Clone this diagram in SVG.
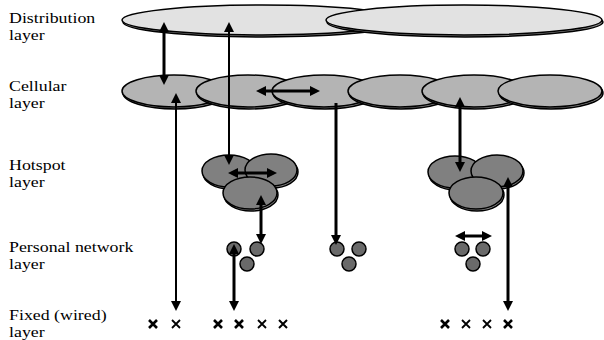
<svg xmlns="http://www.w3.org/2000/svg" xmlns:xlink="http://www.w3.org/1999/xlink" width="604" height="340" viewBox="0 0 604 340">
  <style>
    .lbl { font-family: "Liberation Serif", "DejaVu Serif", serif; font-size: 15px; fill: #000; }
    .cell { stroke: #000; stroke-width: 1.5; }
    .shadow { fill: #8c8c8c; stroke: #000; stroke-width: 1.5; }
    .dist { fill: #e2e2e2; }
    .cellu { fill: #b4b4b4; }
    .hot { fill: #808080; }
    .pers { fill: #6a6a6a; stroke: #000; stroke-width: 1.5; }
    .link { stroke: #000; fill: none; }
    .thin { stroke-width: 2; }
    .thick { stroke-width: 3; }
    .cross { stroke: #000; fill: none; stroke-linecap: butt; }
  </style>
  <defs>
    <marker id="head" viewBox="0 0 10 10" markerWidth="10" markerHeight="10" refX="2" refY="5" markerUnits="userSpaceOnUse" orient="auto-start-reverse">
      <path d="M0,0 L10,5 L0,10 z" fill="#000"/>
    </marker>
    <path id="x" d="M-4,-4 L4,4 M4,-4 L-4,4"/>
  </defs>

  <!-- layer labels -->
  <g id="labels" transform="scale(1.19 1)" font-family="'Liberation Serif', 'DejaVu Serif', serif">
    <text class="lbl" x="7.6" y="23">Distribution</text>
    <text class="lbl" x="7.6" y="40">layer</text>
    <text class="lbl" x="7.6" y="91">Cellular</text>
    <text class="lbl" x="7.6" y="108">layer</text>
    <text class="lbl" x="7.6" y="170">Hotspot</text>
    <text class="lbl" x="7.6" y="187">layer</text>
    <text class="lbl" x="7.6" y="252">Personal network</text>
    <text class="lbl" x="7.6" y="269">layer</text>
    <text class="lbl" x="7.6" y="320">Fixed (wired)</text>
    <text class="lbl" x="7.6" y="337">layer</text>
  </g>

  <!-- distribution layer -->
  <g id="dist-1">
    <ellipse class="shadow" cx="263" cy="22" rx="140" ry="15"/>
    <ellipse class="cell dist" cx="262" cy="20" rx="140" ry="15"/>
  </g>
  <g id="dist-2">
    <ellipse class="shadow" cx="465" cy="22" rx="138" ry="15"/>
    <ellipse class="cell dist" cx="464" cy="20" rx="138" ry="15"/>
  </g>

  <!-- cellular layer -->
  <g id="cell-1">
    <ellipse class="shadow" cx="175" cy="93" rx="52" ry="16"/>
    <ellipse class="cell cellu" cx="174" cy="91" rx="52" ry="16"/>
  </g>
  <g id="cell-2">
    <ellipse class="shadow" cx="249" cy="93" rx="52" ry="16"/>
    <ellipse class="cell cellu" cx="248" cy="91" rx="52" ry="16"/>
  </g>
  <g id="cell-3">
    <ellipse class="shadow" cx="325" cy="93" rx="52" ry="16"/>
    <ellipse class="cell cellu" cx="324" cy="91" rx="52" ry="16"/>
  </g>
  <g id="cell-4">
    <ellipse class="shadow" cx="401" cy="93" rx="52" ry="16"/>
    <ellipse class="cell cellu" cx="400" cy="91" rx="52" ry="16"/>
  </g>
  <g id="cell-5">
    <ellipse class="shadow" cx="475" cy="93" rx="52" ry="16"/>
    <ellipse class="cell cellu" cx="474" cy="91" rx="52" ry="16"/>
  </g>
  <g id="cell-6">
    <ellipse class="shadow" cx="551" cy="93" rx="52" ry="16"/>
    <ellipse class="cell cellu" cx="550" cy="91" rx="52" ry="16"/>
  </g>

  <!-- hotspot layer, left cluster -->
  <g id="hot-a1">
    <ellipse class="shadow" cx="230" cy="173" rx="27" ry="16"/>
    <ellipse class="cell hot" cx="229" cy="171" rx="27" ry="16"/>
  </g>
  <g id="hot-a2">
    <ellipse class="shadow" cx="272" cy="172" rx="26" ry="16"/>
    <ellipse class="cell hot" cx="271" cy="170" rx="26" ry="16"/>
  </g>
  <g id="hot-a3">
    <ellipse class="shadow" cx="251" cy="195" rx="27" ry="16"/>
    <ellipse class="cell hot" cx="250" cy="193" rx="27" ry="16"/>
  </g>

  <!-- hotspot layer, right cluster -->
  <g id="hot-b1">
    <ellipse class="shadow" cx="456" cy="174" rx="27" ry="16"/>
    <ellipse class="cell hot" cx="455" cy="172" rx="27" ry="16"/>
  </g>
  <g id="hot-b2">
    <ellipse class="shadow" cx="498" cy="173" rx="26" ry="16"/>
    <ellipse class="cell hot" cx="497" cy="171" rx="26" ry="16"/>
  </g>
  <g id="hot-b3">
    <ellipse class="shadow" cx="477" cy="195" rx="27" ry="16"/>
    <ellipse class="cell hot" cx="476" cy="193" rx="27" ry="16"/>
  </g>

  <!-- personal network layer -->
  <g id="pan-1">
    <circle class="pers" cx="234" cy="249" r="7"/>
    <circle class="pers" cx="257" cy="249" r="7"/>
    <circle class="pers" cx="247" cy="264" r="7"/>
  </g>
  <g id="pan-2">
    <circle class="pers" cx="337" cy="249" r="7"/>
    <circle class="pers" cx="359" cy="249" r="7"/>
    <circle class="pers" cx="349" cy="264" r="7"/>
  </g>
  <g id="pan-3">
    <circle class="pers" cx="462" cy="249" r="7"/>
    <circle class="pers" cx="483" cy="249" r="7"/>
    <circle class="pers" cx="473" cy="264" r="7"/>
  </g>

  <!-- fixed (wired) layer -->
  <g id="fixed-1">
    <use xlink:href="#x" class="cross" x="153" y="324" stroke-width="2.6"/>
    <use xlink:href="#x" class="cross" x="176" y="324" stroke-width="1.8"/>
  </g>
  <g id="fixed-2">
    <use xlink:href="#x" class="cross" x="218" y="324" stroke-width="2.6"/>
    <use xlink:href="#x" class="cross" x="239" y="324" stroke-width="2.6"/>
    <use xlink:href="#x" class="cross" x="262" y="324" stroke-width="1.8"/>
    <use xlink:href="#x" class="cross" x="283" y="324" stroke-width="2"/>
  </g>
  <g id="fixed-3">
    <use xlink:href="#x" class="cross" x="445" y="324" stroke-width="2.6"/>
    <use xlink:href="#x" class="cross" x="466" y="324" stroke-width="1.8"/>
    <use xlink:href="#x" class="cross" x="487" y="324" stroke-width="1.8"/>
    <use xlink:href="#x" class="cross" x="508" y="324" stroke-width="2.6"/>
  </g>

  <!-- connectors -->
  <g id="connectors">
    <line class="link thick" x1="164" y1="30" x2="164" y2="77" marker-start="url(#head)" marker-end="url(#head)"/>
    <line class="link thin" x1="229" y1="30" x2="229" y2="157" marker-start="url(#head)" marker-end="url(#head)"/>
    <line class="link thin" x1="176" y1="101" x2="176" y2="303" marker-start="url(#head)" marker-end="url(#head)"/>
    <line class="link thick" x1="264" y1="91" x2="312" y2="91" marker-start="url(#head)" marker-end="url(#head)"/>
    <line class="link thick" x1="336" y1="103" x2="336" y2="237" marker-end="url(#head)"/>
    <line class="link thick" x1="460" y1="105" x2="460" y2="164" marker-start="url(#head)" marker-end="url(#head)"/>
    <line class="link thick" x1="508" y1="185" x2="508" y2="303" marker-start="url(#head)" marker-end="url(#head)"/>
    <line class="link thick" x1="236" y1="173" x2="269" y2="173" marker-start="url(#head)" marker-end="url(#head)"/>
    <line class="link thick" x1="261" y1="203" x2="261" y2="236" marker-start="url(#head)" marker-end="url(#head)"/>
    <line class="link thick" x1="234" y1="252" x2="234" y2="303" marker-start="url(#head)" marker-end="url(#head)"/>
    <line class="link thick" x1="463" y1="236" x2="484" y2="236" marker-start="url(#head)" marker-end="url(#head)"/>
  </g>
</svg>
